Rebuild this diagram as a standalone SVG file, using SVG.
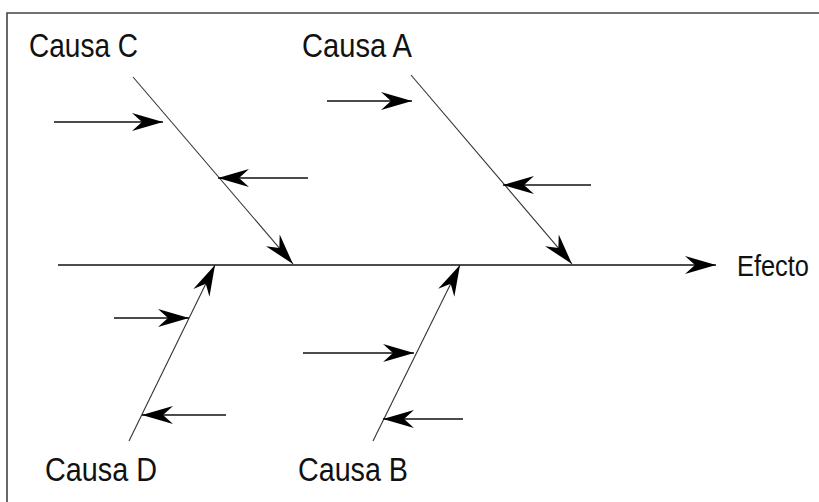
<svg xmlns="http://www.w3.org/2000/svg" width="819" height="502" viewBox="0 0 819 502">
<style>
.lbl{font-family:"Liberation Sans","Noto Sans",sans-serif;font-size:33px;fill:#111}
.eff{font-family:"Liberation Sans","Noto Sans",sans-serif;font-size:29px;fill:#111}
.spine{stroke:#111;stroke-width:1.6;fill:none}
.bone{stroke:#333;stroke-width:1.1;fill:none}
.sub{stroke:#111;stroke-width:1.5;fill:none}
.frame{stroke:#444;stroke-width:1.6;fill:none}
</style>
<defs>
<marker id="ah" markerUnits="userSpaceOnUse" markerWidth="34" markerHeight="22" viewBox="-32 -11 34 22" refX="0" refY="0" orient="auto">
<path d="M0,0 L-31,-9 L-21,0 L-31,9 Z" fill="#000"/>
</marker>
</defs>
<rect width="819" height="502" fill="#fff"/>
<path class="frame" d="M7,502 V13 H819"/>
<g id="connectors">
<line class="spine" x1="58" y1="265" x2="716" y2="265" marker-end="url(#ah)"/>
<line class="bone" x1="133" y1="77" x2="293" y2="264" marker-end="url(#ah)"/>
<line class="sub" x1="54" y1="122" x2="163" y2="122" marker-end="url(#ah)"/>
<line class="sub" x1="308" y1="178" x2="218" y2="178" marker-end="url(#ah)"/>
<line class="bone" x1="411" y1="75" x2="572" y2="264" marker-end="url(#ah)"/>
<line class="sub" x1="327" y1="101" x2="412" y2="101" marker-end="url(#ah)"/>
<line class="sub" x1="591" y1="185" x2="503" y2="185" marker-end="url(#ah)"/>
<line class="bone" x1="129" y1="441" x2="215" y2="265" marker-end="url(#ah)"/>
<line class="sub" x1="114" y1="318" x2="189" y2="318" marker-end="url(#ah)"/>
<line class="sub" x1="226" y1="415" x2="142" y2="415" marker-end="url(#ah)"/>
<line class="bone" x1="373" y1="441" x2="460" y2="265" marker-end="url(#ah)"/>
<line class="sub" x1="303" y1="353" x2="414" y2="353" marker-end="url(#ah)"/>
<line class="sub" x1="463" y1="419" x2="383" y2="419" marker-end="url(#ah)"/>
</g>
<g id="causaC"><text class="lbl" x="29" y="57" textLength="109" lengthAdjust="spacingAndGlyphs">Causa C</text></g>
<g id="causaA"><text class="lbl" x="302" y="57" textLength="110" lengthAdjust="spacingAndGlyphs">Causa A</text></g>
<g id="causaD"><text class="lbl" x="45" y="481" textLength="112" lengthAdjust="spacingAndGlyphs">Causa D</text></g>
<g id="causaB"><text class="lbl" x="298" y="481" textLength="110" lengthAdjust="spacingAndGlyphs">Causa B</text></g>
<g id="efecto"><text class="eff" x="737" y="276" textLength="72" lengthAdjust="spacingAndGlyphs">Efecto</text></g>
</svg>
